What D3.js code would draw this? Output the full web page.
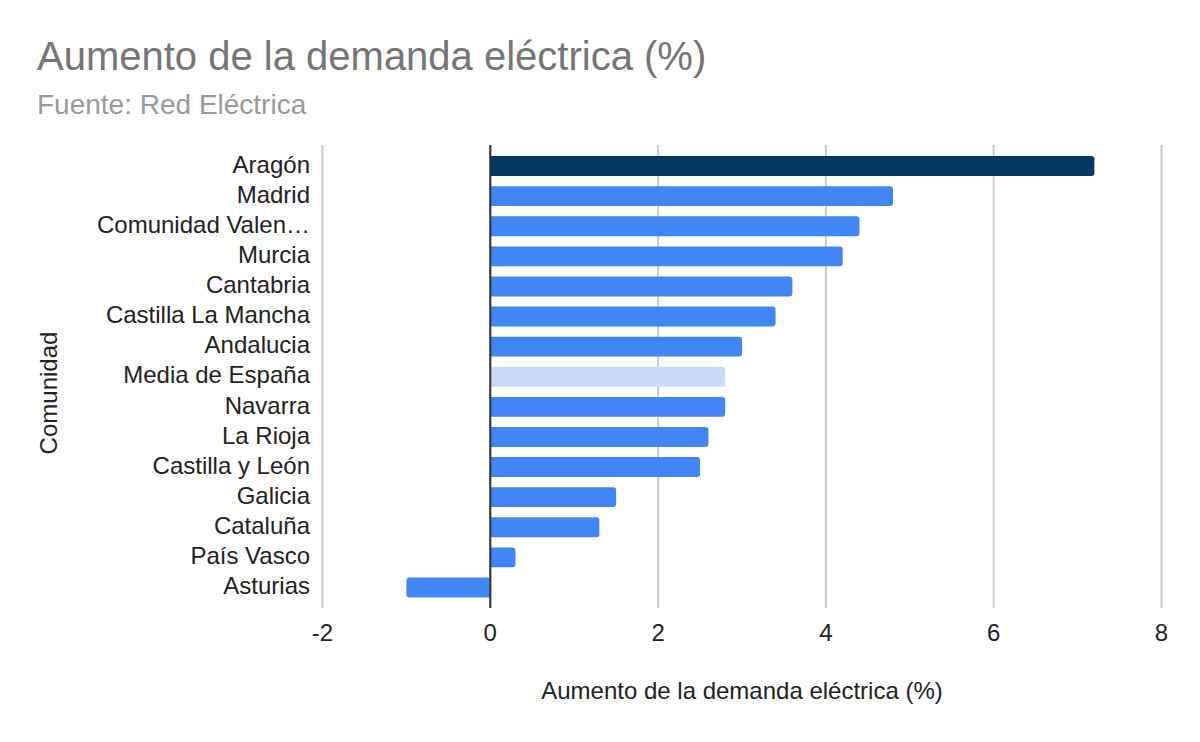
<!DOCTYPE html>
<html>
<head>
<meta charset="utf-8">
<script src="https://cdn.jsdelivr.net/npm/d3@7"></script>
<style>
  body { margin: 0; background: #fff; }
  text { font-family: "Liberation Sans", Arial, sans-serif; }
</style>
</head>
<body>
<div id="chart"></div>
<script>
// data
var comunidades = ["Aragón", "Madrid", "Comunidad Valen…", "Murcia", "Cantabria",
  "Castilla La Mancha", "Andalucia", "Media de España", "Navarra", "La Rioja",
  "Castilla y León", "Galicia", "Cataluña", "País Vasco", "Asturias"];
var aumento = [7.2, 4.8, 4.4, 4.2, 3.6, 3.4, 3.0, 2.8, 2.8, 2.6, 2.5, 1.5, 1.3, 0.3, -1.0];
var xTicks = [-2, 0, 2, 4, 6, 8];

var svgWidth = 1200;
var svgHeight = 742;

var svg = d3.select("#chart")
  .append("svg")
  .attr("width", svgWidth)
  .attr("height", svgHeight);

var data = comunidades.map((c, i) => ({ name: c, value: aumento[i] }));

var xScale = d3.scaleLinear().domain([-2, 8]).range([322.5, 1161.5]);
var yScale = d3.scaleBand().domain(comunidades).range([151, 602.5]).paddingInner(0.34).paddingOuter(0.17);

//titles
svg.append("text")
  .attr("x", 37).attr("y", 70)
  .attr("fill", "#757575")
  .style("font-size", "40px")
  .text("Aumento de la demanda eléctrica (%)");

svg.append("text")
  .attr("x", 37).attr("y", 114)
  .attr("fill", "#999999")
  .style("font-size", "28px")
  .text("Fuente: Red Eléctrica");

//gridlines
svg.append("g")
  .selectAll("line")
  .data(xTicks)
  .enter()
  .append("line")
  .attr("x1", d => xScale(d)).attr("x2", d => xScale(d))
  .attr("y1", 145).attr("y2", 608)
  .attr("stroke", "#cccccc")
  .attr("stroke-width", 2);

//bars with rounded outer end
function barPath(d) {
  var y0 = yScale(d.name), h = yScale.bandwidth();
  var x0 = xScale(0), x1 = xScale(d.value);
  var r = Math.min(3, Math.abs(x1 - x0));
  var s = x1 >= x0 ? 1 : -1;
  var p = d3.path();
  p.moveTo(x0, y0);
  p.lineTo(x1 - s * r, y0);
  p.arcTo(x1, y0, x1, y0 + r, r);
  p.lineTo(x1, y0 + h - r);
  p.arcTo(x1, y0 + h, x1 - s * r, y0 + h, r);
  p.lineTo(x0, y0 + h);
  p.closePath();
  return p.toString();
}

function barColor(d) {
  if (d.name === "Aragón") return "#073763";
  if (d.name === "Media de España") return "#c9daf8";
  return "#4285f4";
}

svg.append("g")
  .selectAll("path")
  .data(data)
  .enter()
  .append("path")
  .attr("d", barPath)
  .attr("fill", barColor);

//zero line
svg.append("line")
  .attr("x1", xScale(0)).attr("x2", xScale(0))
  .attr("y1", 145).attr("y2", 608)
  .attr("stroke", "#333333")
  .attr("stroke-width", 2);

//category labels
svg.append("g")
  .selectAll("text")
  .data(comunidades)
  .enter()
  .append("text")
  .attr("x", 310)
  .attr("y", d => yScale(d) + yScale.bandwidth() / 2)
  .attr("dy", "0.28em")
  .attr("text-anchor", "end")
  .attr("fill", "#222222")
  .style("font-size", "24px")
  .text(d => d);

//x tick labels
svg.append("g")
  .selectAll("text")
  .data(xTicks)
  .enter()
  .append("text")
  .attr("x", d => xScale(d))
  .attr("y", 641)
  .attr("text-anchor", "middle")
  .attr("fill", "#222222")
  .style("font-size", "24px")
  .text(d => d);

//axis titles
svg.append("text")
  .attr("x", 742).attr("y", 699)
  .attr("text-anchor", "middle")
  .attr("fill", "#222222")
  .style("font-size", "24px")
  .text("Aumento de la demanda eléctrica (%)");

svg.append("text")
  .attr("transform", "translate(57, 393) rotate(-90)")
  .attr("text-anchor", "middle")
  .attr("fill", "#222222")
  .style("font-size", "24px")
  .text("Comunidad");
</script>
</body>
</html>
